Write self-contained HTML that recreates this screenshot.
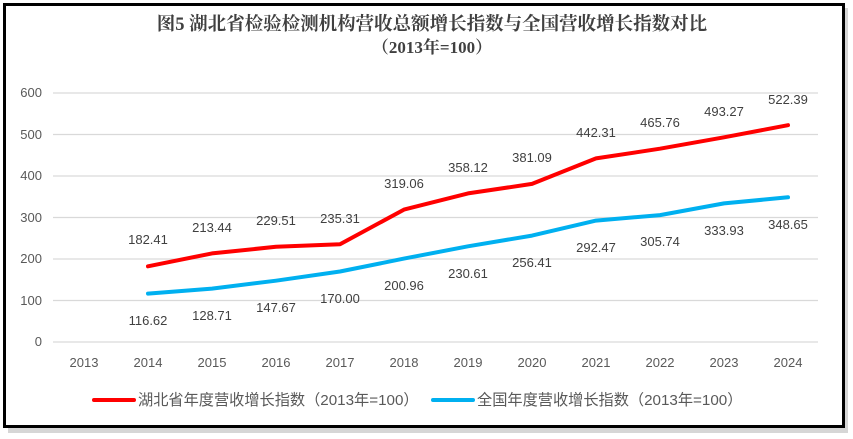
<!DOCTYPE html><html><head><meta charset="utf-8"><style>body{margin:0;background:#fff}svg{display:block}</style></head><body>
<svg width="853" height="439" xmlns="http://www.w3.org/2000/svg" font-family="Liberation Sans, Noto Sans CJK SC, sans-serif">
<rect x="8" y="8" width="840" height="425" fill="#bbb" opacity="0.6"/>
<rect x="4.5" y="4.5" width="839" height="422" fill="#fff" stroke="#000" stroke-width="3"/>
<text x="432" y="30" text-anchor="middle" font-family="Liberation Serif, Noto Serif CJK SC, serif" font-weight="bold" font-size="18.5" fill="#404040">图5 湖北省检验检测机构营收总额增长指数与全国营收增长指数对比</text>
<text x="432" y="53" text-anchor="middle" font-family="Liberation Serif, Noto Serif CJK SC, serif" font-weight="bold" font-size="17" fill="#404040">（2013年=100）</text>
<g stroke="#d9d9d9" stroke-width="1.2">
<line x1="53" x2="818" y1="93" y2="93"/><line x1="53" x2="818" y1="134.5" y2="134.5"/><line x1="53" x2="818" y1="176" y2="176"/><line x1="53" x2="818" y1="217.5" y2="217.5"/><line x1="53" x2="818" y1="259" y2="259"/><line x1="53" x2="818" y1="300.5" y2="300.5"/><line x1="53" x2="818" y1="342" y2="342"/></g>
<g font-size="13" fill="#595959" text-anchor="end">
<text x="42" y="97">600</text><text x="42" y="139">500</text><text x="42" y="180">400</text><text x="42" y="222">300</text><text x="42" y="263">200</text><text x="42" y="305">100</text><text x="42" y="346">0</text></g>
<g font-size="13" fill="#595959" text-anchor="middle">
<text x="84" y="367">2013</text><text x="148" y="367">2014</text><text x="212" y="367">2015</text><text x="276" y="367">2016</text><text x="340" y="367">2017</text><text x="404" y="367">2018</text><text x="468" y="367">2019</text><text x="532" y="367">2020</text><text x="596" y="367">2021</text><text x="660" y="367">2022</text><text x="724" y="367">2023</text><text x="788" y="367">2024</text></g>
<polyline fill="none" stroke="#ff0000" stroke-width="4" stroke-linejoin="round" stroke-linecap="round" points="148,266.3 212,253.4 276,246.8 340,244.3 404,209.6 468,193.4 532,183.9 596,158.4 660,148.7 724,137.3 788,125.2"/>
<polyline fill="none" stroke="#00b0f0" stroke-width="4" stroke-linejoin="round" stroke-linecap="round" points="148,293.6 212,288.6 276,280.7 340,271.5 404,258.6 468,246.3 532,235.6 596,220.6 660,215.1 724,203.4 788,197.3"/>
<g font-size="13" fill="#404040" text-anchor="middle">
<text x="148" y="244">182.41</text><text x="212" y="232">213.44</text><text x="276" y="225">229.51</text><text x="340" y="223">235.31</text><text x="404" y="188">319.06</text><text x="468" y="172">358.12</text><text x="532" y="162">381.09</text><text x="596" y="137">442.31</text><text x="660" y="127">465.76</text><text x="724" y="116">493.27</text><text x="788" y="104">522.39</text>
<text x="148" y="325">116.62</text><text x="212" y="320">128.71</text><text x="276" y="312">147.67</text><text x="340" y="303">170.00</text><text x="404" y="290">200.96</text><text x="468" y="278">230.61</text><text x="532" y="267">256.41</text><text x="596" y="252">292.47</text><text x="660" y="246">305.74</text><text x="724" y="235">333.93</text><text x="788" y="229">348.65</text></g>
<line x1="94" x2="134" y1="400" y2="400" stroke="#ff0000" stroke-width="4" stroke-linecap="round"/>
<text x="138" y="405" font-size="15.2" fill="#595959">湖北省年度营收增长指数（2013年=100）</text>
<line x1="433" x2="473" y1="400" y2="400" stroke="#00b0f0" stroke-width="4" stroke-linecap="round"/>
<text x="477" y="405" font-size="15.2" fill="#595959">全国年度营收增长指数（2013年=100）</text>
</svg></body></html>
